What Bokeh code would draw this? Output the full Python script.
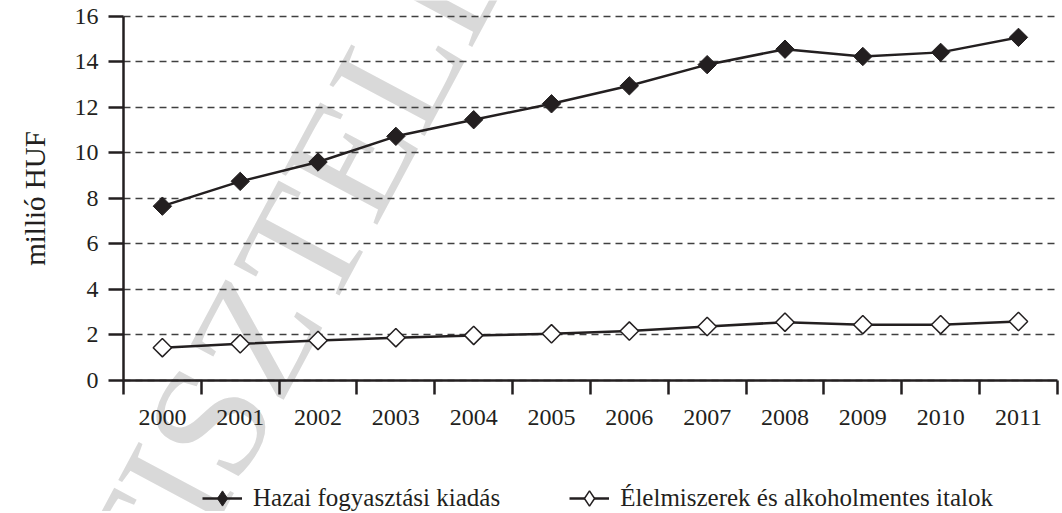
import numpy as np
from bokeh.plotting import figure
from bokeh.models import Range1d, FixedTicker, Legend, LegendItem, Label
from bokeh.embed import file_html
from bokeh.resources import INLINE

# ---- data ----
years = [2000, 2001, 2002, 2003, 2004, 2005, 2006, 2007, 2008, 2009, 2010, 2011]
hazai = [7.66, 8.75, 9.60, 10.73, 11.46, 12.16, 12.95, 13.88, 14.56, 14.24, 14.42, 15.08]
elelmiszer = [1.44, 1.61, 1.76, 1.88, 1.98, 2.05, 2.17, 2.37, 2.56, 2.45, 2.45, 2.59]
y_ticks = [0, 2, 4, 6, 8, 10, 12, 14, 16]
series_names = ["Hazai fogyasztási kiadás", "Élelmiszerek és alkoholmentes italok"]
y_label = "millió HUF"
watermark = "TISZTELETPÉLDÁNY"

INK = "#231f20"
FONT = "Liberation Serif"

x_lo, x_hi = years[0] - 0.5, years[-1] + 0.5
y_lo, y_hi = y_ticks[0], y_ticks[-1]

# the frame covers the whole canvas so that the legend and watermark can live in it;
# axes are pinned to the data edges with fixed_location and bounds
p = figure(width=1060, height=511, output_backend="svg", toolbar_location=None,
           x_range=Range1d(x_lo - 1.58, x_hi + 0.04),
           y_range=Range1d(y_lo - 5.76, y_hi + 0.70),
           min_border=0, min_border_left=0, min_border_right=0,
           min_border_top=0, min_border_bottom=0)
p.outline_line_color = None
p.background_fill_color = "white"
p.border_fill_color = "white"

# watermark
wm = Label(x=2000.42, y=-11.5, text=watermark, angle=1.08, text_font=FONT,
           text_font_size="165px", text_color="#d9d9d9", level="image")
p.add_layout(wm)

# grid
p.xgrid.visible = False
p.ygrid.ticker = FixedTicker(ticks=y_ticks)
p.ygrid.cross_bounds = (x_lo, x_hi)
p.ygrid.grid_line_color = "#404040"
p.ygrid.grid_line_dash = "7 5"
p.ygrid.grid_line_width = 1.3

# x axis
xa = p.xaxis[0]
xa.fixed_location = y_lo
xa.bounds = (x_lo, x_hi)
xa.ticker = FixedTicker(ticks=years, minor_ticks=[y - 0.5 for y in years] + [x_hi])
xa.major_tick_out = 0
xa.major_tick_in = 0
xa.minor_tick_out = 14
xa.minor_tick_in = 0
xa.minor_tick_line_width = 2.5
xa.minor_tick_line_color = INK
xa.axis_line_width = 2.5
xa.axis_line_color = INK
xa.major_label_text_font = FONT
xa.major_label_text_font_size = "24px"
xa.major_label_text_color = INK
xa.major_label_standoff = 16

# y axis
ya = p.yaxis[0]
ya.fixed_location = x_lo
ya.bounds = (y_lo, y_hi)
ya.ticker = FixedTicker(ticks=y_ticks)
ya.major_tick_out = 15
ya.major_tick_in = 0
ya.minor_tick_out = 0
ya.minor_tick_in = 0
ya.major_tick_line_width = 2.5
ya.major_tick_line_color = INK
ya.axis_line_width = 2.5
ya.axis_line_color = INK
ya.major_label_text_font = FONT
ya.major_label_text_font_size = "24px"
ya.major_label_text_color = INK
ya.major_label_standoff = 10
ya.axis_label = y_label
ya.axis_label_text_font = FONT
ya.axis_label_text_font_size = "29px"
ya.axis_label_text_font_style = "normal"
ya.axis_label_text_color = INK
ya.axis_label_standoff = 21

# series; a small diamond under each rotated square serves as the legend key
# (legends never rotate markers)
l1 = p.line(years, hazai, line_width=2.5, line_color=INK)
k1 = p.scatter(years, hazai, marker="diamond", size=9, fill_color=INK, line_color=INK, line_width=1)
s1 = p.scatter(years, hazai, marker="square", angle=np.pi / 4, size=13,
               fill_color=INK, line_color=INK, line_width=1)
l2 = p.line(years, elelmiszer, line_width=2.5, line_color=INK)
k2 = p.scatter(years, elelmiszer, marker="diamond", size=9, fill_color="white",
               line_color=INK, line_width=1.5)
s2 = p.scatter(years, elelmiszer, marker="square", angle=np.pi / 4, size=13,
               fill_color="white", line_color=INK, line_width=1.5)

legend = Legend(items=[LegendItem(label=series_names[0], renderers=[l1, k1]),
                       LegendItem(label=series_names[1], renderers=[l2, k2])],
                orientation="horizontal", location=(202, -6),
                glyph_width=40, glyph_height=38, label_standoff=11, spacing=69,
                label_text_font=FONT, label_text_font_size="25px", label_text_color=INK,
                border_line_color=None, background_fill_alpha=0, padding=0, margin=0)
p.add_layout(legend)

open("out.html", "w").write(file_html(p, INLINE))
